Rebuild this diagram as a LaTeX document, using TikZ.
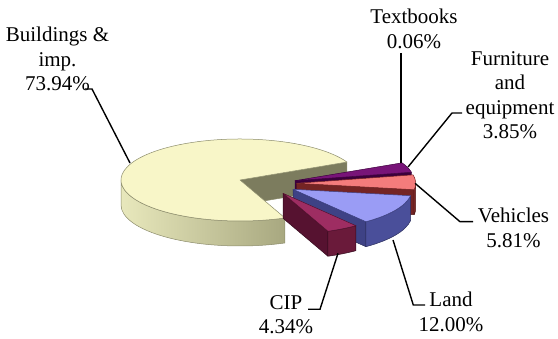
\documentclass[tikz,border=0pt]{standalone}
\usepackage{fontspec}
\setmainfont{Liberation Serif}
\usetikzlibrary{calc}
\definecolor{bldTop}{HTML}{F8F6C8}
\definecolor{bldSideL}{HTML}{E8E8BC}
\definecolor{bldSideR}{HTML}{A8A880}
\definecolor{bldCut}{HTML}{7C7C5E}
\definecolor{bldLine}{HTML}{8C8C6C}
\definecolor{furnTop}{HTML}{781478}
\definecolor{furnSide}{HTML}{3C003C}
\definecolor{vehTop}{HTML}{F47C7C}
\definecolor{vehSide}{HTML}{8E2E2E}
\definecolor{vehRad}{HTML}{742424}
\definecolor{landTop}{HTML}{9A9CF5}
\definecolor{landSide}{HTML}{4A4F9A}
\definecolor{landRad}{HTML}{3E4285}
\definecolor{cipTop}{HTML}{9E2D62}
\definecolor{cipSide}{HTML}{6A1A3A}
\definecolor{cipRad}{HTML}{561230}
\newcommand{\radface}[3]{\path[#3] (#1) -- ($(#1)+(#2:119pt and 41pt)$) -- ++(0,-25pt) -- ($(#1)+(0,-25pt)$) -- cycle;}
\newcommand{\outface}[4]{\path[#4] ($(#1)+(#2:119pt and 41pt)$) arc[start angle=#2,end angle=#3,x radius=119pt,y radius=41pt] -- ++(0,-25pt) arc[start angle=#3,end angle=#2,x radius=119pt,y radius=41pt] -- cycle;}
\newcommand{\topface}[4]{\path[#4] (#1) -- ($(#1)+(#2:119pt and 41pt)$) arc[start angle=#2,end angle=#3,x radius=119pt,y radius=41pt] -- cycle;}
\begin{document}
\begin{tikzpicture}[x=1pt,y=1pt,
  lbl/.style={anchor=north,inner sep=0pt,align=center,font=\fontsize{21}{24.5}\selectfont},
  leader/.style={draw=black,line width=1.4pt},
  edge/.style={line width=0.5pt,line join=round}]
\useasboundingbox (0,0) rectangle (558,339);
% centres of the slices
\coordinate (cB) at (240,159);
\coordinate (cF) at (295,158.3);
\coordinate (cV) at (296.7,155.7);
\coordinate (cL) at (293,149.7);
\coordinate (cC) at (283,145.7);
% Buildings & imp.
\outface{cB}{180}{292.2}{edge,draw=bldLine,left color=bldSideL,right color=bldSideR}
\radface{cB}{26}{edge,draw=bldLine,fill=bldCut}
\topface{cB}{26}{292.2}{edge,draw=bldLine,fill=bldTop}
% Furniture and equipment
\radface{cF}{11.9}{edge,draw=furnSide,fill=furnSide}
\topface{cF}{11.9}{25.8}{edge,draw=furnSide,fill=furnTop}
% Vehicles
\radface{cV}{-9}{edge,draw=vehRad!70!black,fill=vehRad}
\outface{cV}{-9}{0}{edge,draw=vehRad!70!black,fill=vehSide}
\topface{cV}{-9}{11.9}{edge,draw=vehRad,fill=vehTop}
% Land
\radface{cL}{-52.2}{edge,draw=landRad!70!black,fill=landRad}
\outface{cL}{-52.2}{-9}{edge,draw=landRad!70!black,fill=landSide}
\topface{cL}{-52.2}{-9}{edge,draw=landRad,fill=landTop}
% CIP
\radface{cC}{-67.8}{edge,draw=cipRad!60!black,fill=cipRad}
\outface{cC}{-67.8}{-52.2}{edge,draw=cipRad!60!black,fill=cipSide}
\topface{cC}{-67.8}{-52.2}{edge,draw=cipRad,fill=cipTop}
% labels
\node[lbl] (lB) at (57.5,312) {Buildings \&\\imp.\\73.94\%};
\node[lbl] (lT) at (414,330) {Textbooks\\0.06\%};
\node[lbl] (lF) at (510,288) {Furniture\\and\\equipment\\3.85\%};
\node[lbl] (lV) at (513.5,131) {Vehicles\\5.81\%};
\node[lbl] (lL) at (451,47) {Land\\12.00\%};
\node[lbl] (lC) at (286,44) {CIP\\4.34\%};
% leader points
\coordinate (bS) at (85,250); \coordinate (bK) at (92,250); \coordinate (bE) at (130,176);
\coordinate (tS) at (401,286); \coordinate (tE) at (401,176);
\coordinate (fS) at (462,226); \coordinate (fK) at (452,226); \coordinate (fE) at (408,172);
\coordinate (vS) at (473,117.3); \coordinate (vK) at (460,117.3); \coordinate (vE) at (415,155.7);
\coordinate (lS) at (425,34); \coordinate (lK) at (413.3,34); \coordinate (lE) at (393,99);
\coordinate (cS) at (308,29.7); \coordinate (cK) at (320,29.7); \coordinate (cE) at (338,85.7);
\draw[leader] (bS) -- (bK) -- (bE);
\draw[leader] (tS) -- (tE);
\draw[leader] (fS) -- (fK) -- (fE);
\draw[leader] (vS) -- (vK) -- (vE);
\draw[leader] (lS) -- (lK) -- (lE);
\draw[leader] (cS) -- (cK) -- (cE);
\end{tikzpicture}
\end{document}
